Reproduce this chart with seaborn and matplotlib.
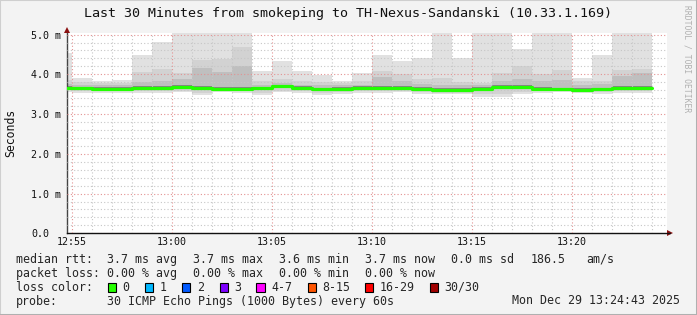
import matplotlib
matplotlib.use("Agg")
import numpy as np
import pandas as pd
import matplotlib.pyplot as plt
import seaborn as sns
from matplotlib.patches import Rectangle
from matplotlib.lines import Line2D

# ---------------- data ----------------
interval_start = ["12:54", "12:55", "12:56", "12:57", "12:58", "12:59", "13:00", "13:01",
                  "13:02", "13:03", "13:04", "13:05", "13:06", "13:07", "13:08", "13:09",
                  "13:10", "13:11", "13:12", "13:13", "13:14", "13:15", "13:16", "13:17",
                  "13:18", "13:19", "13:20", "13:21", "13:22", "13:23"]
last_end = "13:24"

rtt_max = [4.54, 3.92, 3.84, 3.86, 4.48, 4.81, 5.30, 5.30, 5.30, 5.30, 4.08, 4.33, 4.08, 3.99, 3.84,
           4.03, 4.49, 4.34, 4.41, 5.30, 4.42, 5.30, 5.30, 4.64, 5.30, 5.30, 3.92, 4.49, 5.30, 5.30]
rtt_p90 = [3.85, 3.80, 3.78, 3.79, 4.05, 4.14, 4.03, 4.37, 4.38, 4.70, 3.82, 3.88, 3.84, 3.80, 3.78,
           3.82, 4.09, 4.01, 3.87, 3.90, 3.80, 3.78, 4.03, 4.20, 4.01, 4.12, 3.84, 3.84, 4.12, 4.14]
rtt_p75 = [3.76, 3.74, 3.73, 3.73, 3.80, 3.82, 3.87, 4.15, 4.05, 4.20, 3.74, 3.78, 3.74, 3.72, 3.72,
           3.74, 3.93, 3.82, 3.76, 3.74, 3.72, 3.72, 3.82, 3.87, 3.82, 3.85, 3.74, 3.76, 3.95, 4.03]
rtt_p60 = [3.70, 3.69, 3.68, 3.68, 3.70, 3.71, 3.73, 3.71, 3.69, 3.69, 3.69, 3.74, 3.70, 3.66, 3.68,
           3.70, 3.71, 3.70, 3.68, 3.65, 3.65, 3.68, 3.73, 3.73, 3.68, 3.66, 3.65, 3.66, 3.70, 3.71]
rtt_median = [3.66, 3.65, 3.64, 3.64, 3.66, 3.66, 3.68, 3.66, 3.64, 3.64, 3.65, 3.70, 3.66, 3.62, 3.64,
              3.66, 3.66, 3.66, 3.64, 3.61, 3.61, 3.64, 3.69, 3.69, 3.64, 3.62, 3.61, 3.62, 3.66, 3.66]
rtt_p40 = [3.64, 3.63, 3.62, 3.62, 3.64, 3.64, 3.66, 3.64, 3.62, 3.62, 3.63, 3.68, 3.64, 3.60, 3.62,
           3.64, 3.64, 3.64, 3.62, 3.59, 3.59, 3.62, 3.67, 3.67, 3.62, 3.60, 3.59, 3.60, 3.64, 3.64]
rtt_p25 = [3.62, 3.61, 3.60, 3.60, 3.61, 3.61, 3.63, 3.61, 3.60, 3.60, 3.60, 3.65, 3.61, 3.57, 3.59,
           3.61, 3.61, 3.61, 3.59, 3.56, 3.56, 3.59, 3.64, 3.64, 3.59, 3.57, 3.56, 3.57, 3.61, 3.61]
rtt_p10 = [3.60, 3.57, 3.57, 3.58, 3.57, 3.57, 3.59, 3.53, 3.59, 3.57, 3.53, 3.59, 3.57, 3.53, 3.55,
           3.57, 3.57, 3.59, 3.55, 3.54, 3.54, 3.50, 3.50, 3.55, 3.57, 3.59, 3.57, 3.55, 3.57, 3.57]
rtt_min = [3.56, 3.53, 3.53, 3.54, 3.53, 3.53, 3.55, 3.48, 3.55, 3.53, 3.48, 3.55, 3.53, 3.48, 3.50,
           3.53, 3.53, 3.55, 3.50, 3.50, 3.50, 3.44, 3.44, 3.50, 3.53, 3.55, 3.53, 3.50, 3.53, 3.53]

x_tick_labels = ["12:55", "13:00", "13:05", "13:10", "13:15", "13:20"]
y_tick_labels = ["0.0", "1.0 m", "2.0 m", "3.0 m", "4.0 m", "5.0 m"]

title = "Last 30 Minutes from smokeping to TH-Nexus-Sandanski (10.33.1.169)"
rtt_stats = ["3.7 ms avg", "3.7 ms max", "3.6 ms min", "3.7 ms now", "0.0 ms sd", "186.5", "am/s"]
loss_stats = ["0.00 % avg", "0.00 % max", "0.00 % min", "0.00 % now"]
loss_labels = ["0", "1", "2", "3", "4-7", "8-15", "16-29", "30/30"]
loss_colors = ["#26ff00", "#00b8ff", "#0059ff", "#7e00ff", "#ff00ff", "#ff5500", "#ff0000", "#a00000"]
probe_text = "30 ICMP Echo Pings (1000 Bytes) every 60s"
stamp_text = "Mon Dec 29 13:24:43 2025"

# ---------------- setup ----------------
sns.set_style("white")
plt.rcParams["font.family"] = ["DejaVu Sans Mono", "DejaVu Sans"]

W, H = 697, 315
BG = "#f3f3f3"
fig = plt.figure(figsize=(W / 100, H / 100), dpi=100, facecolor=BG)


def fx(px):
    return px / W


def fy(py):
    return 1 - py / H


ax_l, ax_r, ax_t, ax_b = 66.7, 666.7, 33.0, 233.3
ax = fig.add_axes([fx(ax_l), fy(ax_b), fx(ax_r - ax_l), (ax_b - ax_t) / H])
ax.set_facecolor("white")


def to_min(s):
    h, m = map(int, s.split(":"))
    return h * 60 + m - (12 * 60 + 55)


x_edges = [to_min(s) for s in interval_start] + [to_min(last_end)]


def ext(v):
    return list(v) + [v[-1]]


df = pd.DataFrame({
    "t": x_edges,
    "max": ext(rtt_max), "p90": ext(rtt_p90), "p75": ext(rtt_p75), "p60": ext(rtt_p60),
    "median": ext(rtt_median), "p40": ext(rtt_p40), "p25": ext(rtt_p25),
    "p10": ext(rtt_p10), "min": ext(rtt_min),
})

# smoke layers (outer -> inner)
layers = [("min", "max", "#e1e1e1"), ("p10", "p90", "#d2d2d2"),
          ("p25", "p75", "#bfbfbf"), ("p40", "p60", "#858585")]
for lo, hi, col in layers:
    ax.fill_between(df["t"], df[lo], df[hi], step="post", color=col, lw=0, zorder=1)

sns.lineplot(data=df, x="t", y="median", drawstyle="steps-post", color="#22ff00",
             lw=2.3, estimator=None, ax=ax, zorder=4)

ax.set_xlim(-0.25, 29.75)
ax.set_ylim(0, 5.04)

# ticks and grid
ax.set_xticks([to_min(s) for s in x_tick_labels])
ax.set_xticklabels(x_tick_labels)
ax.set_xticks(np.arange(0, 30, 1), minor=True)
ax.set_yticks(np.arange(0, 6, 1.0))
ax.set_yticklabels(y_tick_labels)
ax.set_yticks(np.arange(0, 5.04, 0.2), minor=True)

ax.set_axisbelow(False)
ax.grid(which="minor", color="#c6c6c6", lw=0.8, linestyle=(0, (1, 2)), zorder=2)
ax.grid(which="major", color="#e39292", lw=0.8, linestyle=(0, (1, 2)), zorder=3)

ax.tick_params(axis="both", which="major", length=2.5, width=0.8, color="#333333",
               direction="inout", labelsize=7.2, labelcolor="#111111")
ax.tick_params(axis="both", which="minor", length=2, width=0.6, color="#555555", direction="inout")
ax.tick_params(axis="x", which="major", pad=1.5)
ax.tick_params(axis="y", which="major", pad=24.2)
for lab in ax.get_yticklabels():
    lab.set_horizontalalignment("left")

for side in ["top", "right"]:
    ax.spines[side].set_visible(False)
ax.spines["left"].set_color("#444444")
ax.spines["left"].set_linewidth(1.0)
ax.spines["bottom"].set_color("#111111")
ax.spines["bottom"].set_linewidth(1.0)
ax.set_xlabel("")
ax.set_ylabel("")

# axis arrows
ax.plot([0], [1.013], marker="^", ms=4.5, color="#8b1010", transform=ax.transAxes,
        clip_on=False, zorder=6, mew=0)
ax.plot([1.006], [0], marker=">", ms=4.5, color="#8b1010", transform=ax.transAxes,
        clip_on=False, zorder=6, mew=0)
fig.add_artist(Line2D([fx(ax_r), fx(670)], [fy(ax_b), fy(ax_b)], color="#111111", lw=1.0))

# texts
mono = ["DejaVu Sans Mono", "DejaVu Sans"]
fig.text(fx(347.5), fy(13.5), title, ha="center", va="center", fontsize=9.6, color="#111111",
         family=mono)
fig.text(fx(11), fy(133), "Seconds", rotation=90, ha="center", va="center", fontsize=8.3,
         color="#111111", family=mono)
fig.text(fx(687), fy(59), "RRDTOOL / TOBI OETIKER", rotation=270, ha="center", va="center",
         fontsize=5.8, color="#b0b0b0", family=mono)

LFS = 8.4
rows = [259.3, 273.3, 287.3, 301.0]
fig.text(fx(16), fy(rows[0]), "median rtt:", ha="left", va="center", fontsize=LFS, family=mono)
for xp, s in zip([107.1, 192.9, 279.1, 364.9, 451.1, 530.2, 586.7], rtt_stats):
    fig.text(fx(xp), fy(rows[0]), s, ha="left", va="center", fontsize=LFS, family=mono)
fig.text(fx(16), fy(rows[1]), "packet loss:", ha="left", va="center", fontsize=LFS, family=mono)
for xp, s in zip([107.1, 192.9, 279.1, 364.9], loss_stats):
    fig.text(fx(xp), fy(rows[1]), s, ha="left", va="center", fontsize=LFS, family=mono)
fig.text(fx(16), fy(rows[2]), "loss color:", ha="left", va="center", fontsize=LFS, family=mono)
box_x = [108, 145, 182, 219.5, 256.4, 307.6, 365, 430]
for bx, lab, col in zip(box_x, loss_labels, loss_colors):
    fig.add_artist(Rectangle((fx(bx), fy(rows[2] + 4.2)), fx(8.4), 8.4 / H,
                             transform=fig.transFigure, facecolor=col, edgecolor="#000000",
                             lw=0.8))
    fig.text(fx(bx + 14.7), fy(rows[2]), lab, ha="left", va="center", fontsize=LFS, family=mono)
fig.text(fx(16), fy(rows[3]), "probe:", ha="left", va="center", fontsize=LFS, family=mono)
fig.text(fx(107.1), fy(rows[3]), probe_text, ha="left", va="center", fontsize=LFS, family=mono)
fig.text(fx(680.5), fy(rows[3]), stamp_text, ha="right", va="center", fontsize=LFS, family=mono)

# 3D border
fig.add_artist(Line2D([0, 0], [0, 1], color="#cfcfcf", lw=1.5))
fig.add_artist(Line2D([0, 1], [1, 1], color="#cfcfcf", lw=1.5))
fig.add_artist(Line2D([1, 1], [0, 1], color="#b0b0b0", lw=2.2))
fig.add_artist(Line2D([0, 1], [0, 0], color="#b0b0b0", lw=2.2))

fig.savefig("out.png", dpi=100, facecolor=BG)
